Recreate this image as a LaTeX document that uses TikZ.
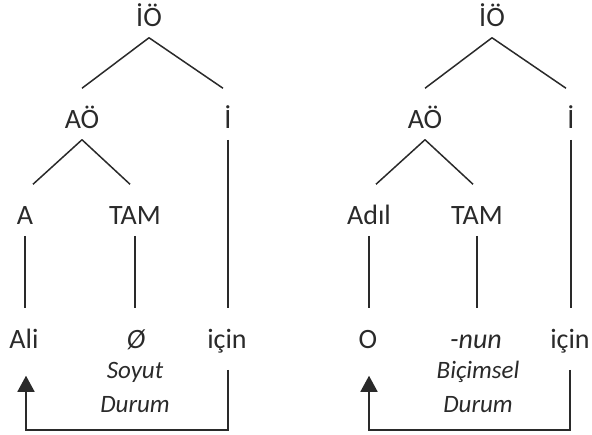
\documentclass[tikz,border=0pt]{standalone}
\usepackage{fontspec}
\setmainfont{Carlito}
\usetikzlibrary{calc,arrows.meta}
\definecolor{ink}{HTML}{2A2A2A}
\begin{document}
\begin{tikzpicture}[x=1pt,y=-1pt,line width=1.5pt,color=ink,
  lab/.style={anchor=base,inner sep=0pt,text height=39pt,text depth=11pt,text=ink,font=\fontsize{28}{32}\selectfont},
  caplab/.style={anchor=base,inner sep=0pt,text=ink,font=\fontsize{25}{30}\selectfont\itshape},
  arr/.style={-{Triangle[width=17pt,length=16pt]}}]
\useasboundingbox (0,0) rectangle (592,434);
\coordinate (bt) at (0,430);
% ---------- left tree ----------
\node[lab] (IO1) at (149,26) {İÖ};
\node[lab] (AO1) at (82,128) {AÖ};
\node[lab] (I1) at (228,128) {İ};
\node[lab] (A1) at (25,224) {A};
\node[lab] (T1) at (135,224) {TAM};
\node[lab] (W1) at (24,348) {Ali};
\node[lab] (Z1) at (136,348) {\itshape Ø};
\node[lab] (C1) at (227,348) {için};
\node[caplab] (S1) at (135,378) {Soyut};
\node[caplab] (D1) at (135,412) {Durum};
\draw (IO1.south) -- (AO1.north);
\draw (IO1.south) -- ($(I1.north)+(-5,0)$);
\draw (AO1.south) -- ($(A1.north)+(8,0)$);
\draw (AO1.south) -- ($(T1.north)+(-5,0)$);
\draw (I1.south) -- (I1.south |- C1.north);
\draw (A1.south) -- (A1.south |- W1.north);
\draw (T1.south) -- (T1.south |- Z1.north);
\coordinate (cs1) at ($(C1.south)+(1,10)$);
\coordinate (ws1) at ($(W1.south)+(2,16)$);
\draw[arr] (cs1) -- (cs1 |- bt) -| (ws1);
% ---------- right tree ----------
\node[lab] (IO2) at (492,26) {İÖ};
\node[lab] (AO2) at (425,128) {AÖ};
\node[lab] (I2) at (571,128) {İ};
\node[lab] (A2) at (369,224) {Adıl};
\node[lab] (T2) at (477,224) {TAM};
\node[lab] (W2) at (368,348) {O};
\node[lab] (Z2) at (476,348) {\itshape -nun};
\node[lab] (C2) at (570,348) {için};
\node[caplab] (S2) at (478,378) {Biçimsel};
\node[caplab] (D2) at (478,412) {Durum};
\draw (IO2.south) -- (AO2.north);
\draw (IO2.south) -- ($(I2.north)+(-5,0)$);
\draw (AO2.south) -- ($(A2.north)+(7,0)$);
\draw (AO2.south) -- ($(T2.north)+(-4,0)$);
\draw (I2.south) -- (I2.south |- C2.north);
\draw (A2.south) -- (A2.south |- W2.north);
\draw (T2.south) -- (T2.south |- Z2.north);
\coordinate (cs2) at ($(C2.south)+(0,10)$);
\coordinate (ws2) at ($(W2.south)+(1,16)$);
\draw[arr] (cs2) -- (cs2 |- bt) -| (ws2);
\end{tikzpicture}
\end{document}
